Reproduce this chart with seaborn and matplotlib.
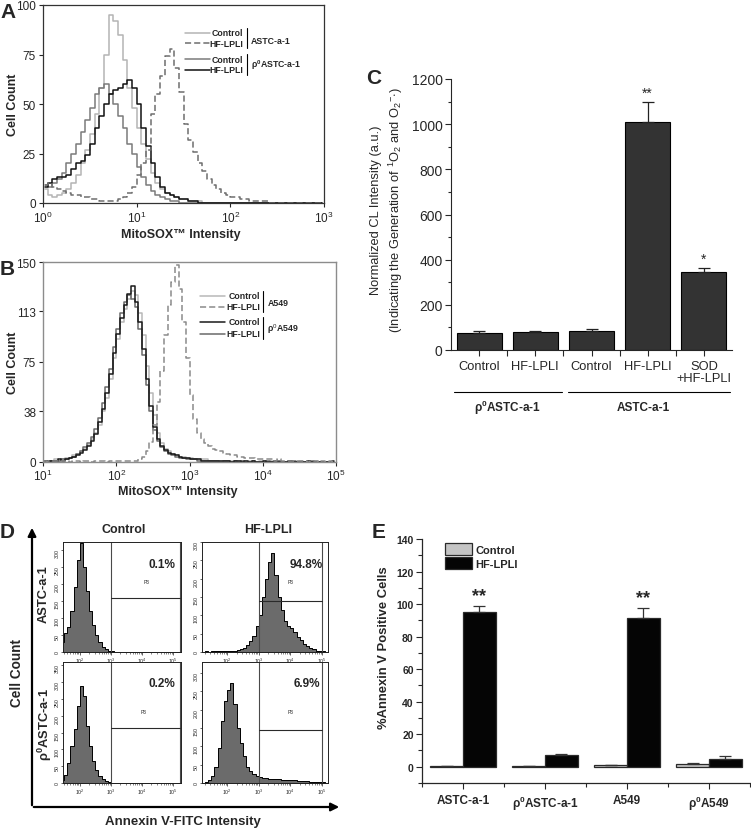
import numpy as np
import pandas as pd
import seaborn as sns
import matplotlib.pyplot as plt
from matplotlib.ticker import MultipleLocator, FixedLocator, NullLocator, LogLocator, NullFormatter
from matplotlib.patches import FancyArrowPatch

sns.set_style('ticks')
plt.rcParams['font.family'] = ['Liberation Sans', 'DejaVu Sans']
plt.rcParams['mathtext.fontset'] = 'custom'
plt.rcParams['mathtext.rm'] = 'Liberation Sans'
plt.rcParams['mathtext.it'] = 'Liberation Sans:italic'
plt.rcParams['mathtext.bf'] = 'Liberation Sans:bold'

"""
数据部分 (read off the picture)
"""
# A: MitoSOX histograms, channels of 0.05 decade from 10^0
a_ctrl = [7, 4, 3, 4, 5, 7, 10, 14, 20, 27, 35, 45, 58, 75, 95, 92, 85, 72, 58, 48,
          38, 30, 22, 15, 10, 7, 5, 4, 3, 2, 2, 1, 1, 1, 0, 0, 0, 0, 0, 0,
          0, 0, 0, 0, 0, 0, 0, 0, 0, 0, 0, 0, 0, 0, 0, 0, 0, 0, 0, 0]
a_hf = [9, 10, 8, 7, 6, 5, 4, 4, 3, 3, 2, 2, 1, 1, 1, 1, 2, 3, 5, 8,
        14, 20, 27, 45, 55, 64, 74, 78, 68, 56, 40, 32, 26, 20, 16, 12, 9, 7, 5, 4,
        3, 3, 2, 2, 1, 1, 1, 1, 0, 0, 0, 0, 0, 0, 0, 0, 0, 0, 0, 0]
a_rho_ctrl = [9, 8, 10, 12, 15, 20, 25, 30, 36, 42, 48, 55, 58, 60, 55, 50, 44, 38, 30, 25,
              18, 13, 9, 6, 4, 3, 2, 1, 1, 0, 0, 0, 0, 0, 0, 0, 0, 0, 0, 0,
              0, 0, 0, 0, 0, 0, 0, 0, 0, 0, 0, 0, 0, 0, 0, 0, 0, 0, 0, 0]
a_rho_hf = [8, 10, 12, 13, 13, 14, 17, 20, 21, 24, 30, 38, 44, 50, 55, 57, 58, 60, 62, 58,
            50, 38, 29, 20, 13, 8, 5, 4, 3, 2, 2, 1, 1, 0, 0, 0, 0, 0, 0, 0,
            0, 0, 0, 0, 0, 0, 0, 0, 0, 0, 0, 0, 0, 0, 0, 0, 0, 0, 0, 0]

# B: MitoSOX histograms, channels of 0.05 decade from 10^1
b_ctrl = [1, 1, 1, 2, 1, 2, 3, 3, 5, 6, 8, 10, 13, 17, 22, 28, 38, 48, 62, 78,
          92, 105, 115, 122, 128, 125, 112, 95, 72, 52, 35, 22, 14, 10, 8, 6, 5, 4, 4, 3,
          3, 2, 2, 2, 2, 1, 1, 1, 1, 1, 1, 1, 1, 1, 1, 1, 1, 1, 0, 1,
          1, 0, 1, 0, 1, 0, 0, 1, 0, 0, 1, 0, 0, 0, 1, 0, 0, 0, 0, 0]
b_hf = [1, 0, 1, 1, 0, 1, 1, 0, 1, 1, 0, 1, 1, 0, 1, 1, 1, 0, 1, 1,
        1, 1, 1, 1, 1, 1, 2, 4, 8, 15, 28, 45, 68, 95, 118, 135, 148, 130, 105, 78,
        50, 32, 22, 17, 14, 12, 10, 9, 8, 7, 6, 5, 5, 4, 4, 3, 3, 3, 2, 2,
        2, 2, 2, 1, 2, 1, 1, 1, 1, 1, 1, 1, 0, 1, 1, 0, 1, 0, 1, 0]
b_rho_ctrl = [1, 0, 1, 1, 2, 1, 2, 3, 4, 5, 7, 9, 12, 16, 21, 30, 40, 52, 66, 82,
              96, 108, 118, 126, 132, 120, 105, 85, 62, 42, 26, 17, 12, 9, 7, 6, 5, 4, 3, 3,
              2, 2, 2, 1, 1, 1, 1, 1, 1, 1, 1, 0, 1, 1, 0, 1, 0, 1, 0, 0,
              1, 0, 0, 1, 0, 0, 0, 1, 0, 0, 0, 0, 1, 0, 0, 0, 0, 0, 0, 1]
b_rho_hf = [1, 1, 1, 1, 1, 2, 2, 3, 4, 6, 8, 11, 14, 19, 25, 33, 44, 56, 70, 86,
            100, 112, 120, 125, 122, 116, 100, 80, 58, 38, 24, 16, 11, 8, 6, 5, 4, 3, 3, 2,
            2, 2, 1, 1, 1, 1, 1, 1, 0, 1, 1, 0, 1, 0, 1, 0, 0, 1, 0, 0,
            0, 1, 0, 0, 1, 0, 0, 0, 1, 0, 0, 0, 0, 1, 0, 0, 0, 0, 0, 0]

# C: chemiluminescence
c_conds = ['rho Control', 'rho HF-LPLI', 'Control', 'HF-LPLI', 'SOD+HF-LPLI']
c_ticks = ['Control', 'HF-LPLI', 'Control', 'HF-LPLI', 'SOD\n+HF-LPLI']
c_vals = [75, 78, 83, 1008, 344]
c_err = [9, 8, 10, 92, 20]
c_stars = ['', '', '', '**', '*']

# D: Annexin V histograms, channels of 0.1 decade from 10^1.2
d_astc_ctrl = [0, 0, 30, 55, 75, 120, 190, 270, 320, 250, 180, 120, 80, 50, 28, 15, 8, 4, 2, 1,
               0, 0, 0, 0, 0, 0, 0, 0, 0, 0, 0, 0, 0, 0, 0, 0, 0, 0, 0, 0, 0]
d_astc_hf = [0, 2, 1, 2, 2, 2, 3, 2, 3, 3, 4, 5, 8, 12, 18, 30, 45, 70, 100, 150,
             200, 245, 270, 210, 150, 115, 85, 70, 65, 55, 42, 32, 22, 16, 10, 7, 4, 3, 2, 1, 0]
d_rho_ctrl = [0, 0, 10, 25, 60, 110, 160, 230, 290, 260, 170, 110, 65, 38, 22, 13, 6, 3, 1, 0,
              0, 0, 0, 0, 0, 0, 0, 0, 0, 0, 0, 0, 0, 0, 0, 0, 0, 0, 0, 0, 0]
d_rho_hf = [0, 4, 8, 18, 45, 95, 170, 225, 255, 272, 215, 150, 110, 75, 45, 32, 24, 20, 17, 15,
            14, 12, 12, 11, 10, 9, 9, 8, 8, 7, 6, 6, 5, 5, 4, 3, 3, 2, 2, 1, 0]
d_pct = ['0.1%', '94.8%', '0.2%', '6.9%']
d_ymax = [324, 300, 360, 330]
d_gate_y = [160, 140, 165, 145]
d_gate_hi = [10 ** 5.22, 10 ** 5.0, 10 ** 5.22, 10 ** 5.0]

# E: % Annexin V positive
e_lines = ['ASTC-a-1', r'ρ$^{\mathbf{0}}$ASTC-a-1', 'A549', r'ρ$^{\mathbf{0}}$A549']
e_trts = ['Control', 'HF-LPLI']
e_ctrl = [0.3, 0.2, 0.8, 1.7]
e_ctrl_err = [0.3, 0.3, 0.3, 0.3]
e_hf = [95, 7, 91.5, 4.8]
e_hf_err = [4, 1, 6.2, 1.5]
e_stars = ['**', '', '**', '']

"""
绘图部分
"""
W, H = 751, 829
fig = plt.figure(figsize=(W / 100, H / 100), dpi=100)


def fx(p):
    return p / W


def fy(p):
    return 1 - p / H


def flow_line(ax, x, y, color, ls='-', lw=1.1):
    sns.lineplot(x=x, y=y, ax=ax, color=color, linestyle=ls, linewidth=lw,
                 drawstyle='steps-mid', estimator=None, sort=False)


def flow_legend(ax, entries, groups, sx, tx, bx, ys, bars, gys):
    for (col, ls, lab), y in zip(entries, ys):
        ax.plot(sx, [y, y], transform=ax.transAxes, color=col, ls=ls, lw=1.1, clip_on=False)
        ax.text(tx, y, lab, transform=ax.transAxes, ha='right', va='center', fontsize=6.3, weight='bold')
    for (y0, y1), g, gy in zip(bars, groups, gys):
        ax.plot([bx, bx], [y0, y1], transform=ax.transAxes, color='black', lw=0.8, clip_on=False)
        ax.text(bx + 0.015, gy, g, transform=ax.transAxes, ha='left', va='center', fontsize=6.3, weight='bold')


# ---------- A ----------
axA = fig.add_axes([fx(43), fy(204), 281 / W, 198 / H])
a_x = 10 ** (np.arange(len(a_ctrl)) * 0.05 + 0.025)
colsA = ['#b4b4b4', '#7a7a7a', '#111111', '#6e6e6e']
flow_line(axA, a_x, a_ctrl, colsA[0])
flow_line(axA, a_x, a_rho_ctrl, colsA[1])
flow_line(axA, a_x, a_rho_hf, colsA[2])
flow_line(axA, a_x, a_hf, colsA[3], ls=(0, (4, 2)))
axA.set_xscale('log')
axA.set_xlim(1, 1000)
axA.set_ylim(0, 100)
axA.set_yticks([0, 25, 50, 75, 100])
axA.xaxis.set_minor_locator(NullLocator())
axA.tick_params(labelsize=8.5, length=3, width=0.8, pad=2)
for s in axA.spines.values():
    s.set_color('#333333')
    s.set_linewidth(0.9)
axA.set_ylabel('Cell Count', fontsize=9, weight='bold', va='center')
axA.yaxis.set_label_coords(-0.107, 0.5)
axA.set_xlabel('MitoSOX™ Intensity', fontsize=9, weight='bold', va='center')
axA.xaxis.set_label_coords(0.49, -0.155)
flow_legend(axA,
            [(colsA[0], '-', 'Control'), (colsA[3], (0, (4, 2)), 'HF-LPLI'),
             (colsA[1], '-', 'Control'), (colsA[2], '-', 'HF-LPLI')],
            ['ASTC-a-1', r'ρ$^{\mathbf{0}}$ASTC-a-1'],
            [0.505, 0.594], 0.712, 0.726, [0.859, 0.808, 0.727, 0.672],
            [(0.884, 0.783), (0.753, 0.646)], [0.823, 0.702])

# ---------- B ----------
axB = fig.add_axes([fx(43), fy(463), 293 / W, 200 / H])
b_x = 10 ** (np.arange(len(b_ctrl)) * 0.05 + 1.025)
colsB = ['#b8b8b8', '#8a8a8a', '#1a1a1a', '#6a6a6a']
flow_line(axB, b_x, b_ctrl, colsB[0])
flow_line(axB, b_x, b_rho_hf, colsB[3])
flow_line(axB, b_x, b_rho_ctrl, colsB[2])
flow_line(axB, b_x, b_hf, colsB[1], ls=(0, (4, 2)))
axB.set_xscale('log')
axB.set_xlim(10, 1e5)
axB.set_ylim(0, 150)
axB.set_yticks([0, 38, 75, 113, 150])
axB.xaxis.set_minor_locator(NullLocator())
axB.tick_params(labelsize=8.5, length=3, width=0.8, pad=2)
axB.tick_params(axis='x', pad=1)
for s in axB.spines.values():
    s.set_color('#8c8c8c')
    s.set_linewidth(1.0)
axB.set_ylabel('Cell Count', fontsize=9, weight='bold', va='center')
axB.yaxis.set_label_coords(-0.102, 0.5)
axB.set_xlabel('MitoSOX™ Intensity', fontsize=9, weight='bold', va='center')
axB.xaxis.set_label_coords(0.46, -0.145)
flow_legend(axB,
            [(colsB[0], '-', 'Control'), (colsB[1], (0, (4, 2)), 'HF-LPLI'),
             (colsB[2], '-', 'Control'), (colsB[3], '-', 'HF-LPLI')],
            ['A549', r'ρ$^{0}$A549'],
            [0.536, 0.621], 0.741, 0.751, [0.831, 0.775, 0.702, 0.64],
            [(0.855, 0.75), (0.725, 0.615)], [0.80, 0.67])

# ---------- C ----------
axC = fig.add_axes([fx(451), fy(351), 281 / W, 271 / H])
dfc = pd.DataFrame({'cond': c_conds, 'cl': c_vals})
sns.barplot(data=dfc, x='cond', y='cl', color='#333333', saturation=1, edgecolor='black',
            linewidth=0.8, width=0.8, errorbar=None, ax=axC)
for bar, e, st in zip(axC.containers[0], c_err, c_stars):
    xc = bar.get_x() + bar.get_width() / 2
    h = bar.get_height()
    axC.errorbar(xc, h, yerr=[[0], [e]], color='#222222', capsize=4, elinewidth=0.9, capthick=0.9)
    if st:
        axC.text(xc, h + e + 8, st, ha='center', va='bottom', fontsize=10)
axC.set_xlim(-0.5, 4.5)
axC.set_ylim(0, 1200)
axC.yaxis.set_major_locator(MultipleLocator(200))
axC.yaxis.set_minor_locator(MultipleLocator(100))
axC.xaxis.set_minor_locator(FixedLocator([0.5, 1.5, 2.5, 3.5]))
axC.set_xticks(range(len(c_ticks)))
axC.set_xticklabels(c_ticks, fontsize=9.3, linespacing=1.0)
axC.tick_params(axis='y', labelsize=10, length=4, width=0.8, pad=2)
axC.tick_params(axis='x', length=4, width=0.8, pad=3)
axC.tick_params(which='minor', length=2.5, width=0.8)
axC.tick_params(axis='x', which='minor', length=4)
sns.despine(ax=axC)
axC.set_xlabel('')
axC.set_ylabel('Normalized CL Intensity (a.u.)\n'
               r'(Indicating the Generation of $^{1}$O$_{2}$ and O$_{2}$$^{-}$$\cdot$)',
               fontsize=9.3, ha='center', va='center', linespacing=1.3)
axC.yaxis.set_label_coords(-0.226, 0.52)
axC.plot([0.011, 0.395], [-0.155, -0.155], transform=axC.transAxes, color='black', lw=0.8, clip_on=False)
axC.plot([0.416, 0.993], [-0.155, -0.155], transform=axC.transAxes, color='black', lw=0.8, clip_on=False)
axC.text(0.2, -0.21, r'ρ$^{\mathbf{0}}$ASTC-a-1', transform=axC.transAxes, ha='center', va='center',
         fontsize=8.5, weight='bold')
axC.text(0.683, -0.21, 'ASTC-a-1', transform=axC.transAxes, ha='center', va='center',
         fontsize=8.5, weight='bold')

# ---------- D ----------
d_boxes = [(63, 653, 118, 110), (202, 653, 126, 110), (63, 784, 118, 121), (202, 784, 126, 121)]
d_xlims = [(10 ** 1.46, 10 ** 5.25), (10 ** 1.21, 10 ** 5.19), (10 ** 1.46, 10 ** 5.25), (10 ** 1.21, 10 ** 5.19)]
d_pct_pos = [(0.95, 0.8), (0.96, 0.8), (0.95, 0.83), (0.94, 0.83)]
d_p3_pos = [(0.71, 0.64), (0.70, 0.64), (0.68, 0.59), (0.70, 0.59)]
d_x = 10 ** (1.25 + 0.1 * np.arange(len(d_astc_ctrl)))
for i, counts in enumerate([d_astc_ctrl, d_astc_hf, d_rho_ctrl, d_rho_hf]):
    l, b, w, h = d_boxes[i]
    ax = fig.add_axes([fx(l), fy(b), w / W, h / H])
    sns.histplot(x=d_x, weights=counts, binwidth=0.1, binrange=(1.2, 5.3), log_scale=True,
                 element='step', fill=True, color='#6b6b6b', edgecolor='black', linewidth=0.7,
                 alpha=1, ax=ax)
    ax.set_xlim(*d_xlims[i])
    ax.set_ylim(0, d_ymax[i])
    ax.set_ylabel('')
    ax.axvline(1e3, color='#4a4a4a', lw=0.8)
    ax.axvline(d_gate_hi[i], color='#4a4a4a', lw=0.8)
    ax.plot([1e3, d_gate_hi[i]], [d_gate_y[i], d_gate_y[i]], color='#2a2a2a', lw=0.8)
    ax.text(*d_pct_pos[i], d_pct[i], transform=ax.transAxes, ha='right', va='center',
            fontsize=8.5, weight='bold')
    ax.text(*d_p3_pos[i], 'P3', transform=ax.transAxes, ha='center', va='center', fontsize=3.5)
    ax.xaxis.set_major_locator(FixedLocator([1e2, 1e3, 1e4, 1e5]))
    ax.xaxis.set_minor_locator(LogLocator(base=10, subs=np.arange(2, 10)))
    ax.xaxis.set_minor_formatter(NullFormatter())
    ax.yaxis.set_major_locator(MultipleLocator(50))
    ax.tick_params(labelsize=3.8, length=1.8, width=0.5, pad=0.8)
    ax.tick_params(axis='y', labelrotation=90)
    ax.tick_params(which='minor', length=1.2, width=0.4)
    for s in ax.spines.values():
        s.set_color('#222222')
        s.set_linewidth(0.7)

fig.text(fx(124), fy(530), 'Control', ha='center', va='center', fontsize=9, weight='bold')
fig.text(fx(268), fy(530), 'HF-LPLI', ha='center', va='center', fontsize=9, weight='bold')
fig.text(fx(44), fy(594), 'ASTC-a-1', rotation=90, ha='center', va='center', fontsize=9.3, weight='bold')
fig.text(fx(45), fy(725), r'ρ$^{\mathbf{0}}$ASTC-a-1', rotation=90, ha='center', va='center',
         fontsize=9.3, weight='bold')
fig.text(fx(17), fy(673), 'Cell Count', rotation=90, ha='center', va='center', fontsize=9.8, weight='bold')
fig.text(fx(183), fy(822), 'Annexin V-FITC Intensity', ha='center', va='center', fontsize=9.5, weight='bold')
fig.add_artist(FancyArrowPatch((fx(32), fy(809)), (fx(32), fy(526)), transform=fig.transFigure,
                               arrowstyle='-|>', mutation_scale=12, lw=1.6, color='black'))
fig.add_artist(FancyArrowPatch((fx(31), fy(808)), (fx(342), fy(808)), transform=fig.transFigure,
                               arrowstyle='-|>', mutation_scale=12, lw=1.6, color='black'))

# ---------- E ----------
axE = fig.add_axes([fx(422), fy(784), 328 / W, 244 / H])
dfe = pd.DataFrame({'line': e_lines * 2,
                    'trt': [e_trts[0]] * len(e_lines) + [e_trts[1]] * len(e_lines),
                    'pct': e_ctrl + e_hf})
sns.barplot(data=dfe, x='line', y='pct', hue='trt', order=e_lines, hue_order=e_trts,
            palette={'Control': '#c4c4c4', 'HF-LPLI': '#050505'}, saturation=1,
            edgecolor='#2a2a2a', linewidth=0.9, width=0.8, errorbar=None, legend=False, ax=axE)
for cont, errs, stars in zip(axE.containers, [e_ctrl_err, e_hf_err], [[''] * 4, e_stars]):
    for bar, e, st in zip(cont, errs, stars):
        xc = bar.get_x() + bar.get_width() / 2
        h = bar.get_height()
        axE.errorbar(xc, h, yerr=[[0], [e]], color='#333333', capsize=4, elinewidth=0.9, capthick=0.9)
        if st:
            axE.text(xc, h + e + 1, st, ha='center', va='bottom', fontsize=13, weight='bold')
axE.legend(handles=[axE.containers[0][0], axE.containers[1][0]], labels=e_trts,
           loc='upper left', bbox_to_anchor=(0.05, 1.01), frameon=False, handlelength=2.4,
           handleheight=1.3, labelspacing=0.15, handletextpad=0.35, borderaxespad=0.2,
           prop={'weight': 'bold', 'size': 8})
axE.set_xlim(-0.5, 3.5)
axE.set_ylim(-10, 140)
axE.yaxis.set_major_locator(MultipleLocator(20))
axE.yaxis.set_minor_locator(MultipleLocator(10))
axE.xaxis.set_minor_locator(FixedLocator([-0.5, 0.5, 1.5, 2.5, 3.5]))
axE.tick_params(axis='both', labelsize=7.5, length=4, width=0.8, pad=2)
axE.tick_params(axis='x', labelsize=8.5, pad=4)
axE.tick_params(which='minor', length=3, width=0.8)
for lbl in axE.get_xticklabels() + axE.get_yticklabels():
    lbl.set_fontweight('bold')
sns.despine(ax=axE)
for s in axE.spines.values():
    s.set_linewidth(0.9)
axE.set_xlabel('')
axE.set_ylabel('%Annexin V Positive Cells', fontsize=9.4, weight='bold', va='center')
axE.yaxis.set_label_coords(-0.116, 0.56)

# panel letters
for lab, (px, py) in zip('ABCDE', [(0, 12.5), (0, 270), (366, 79), (0, 533), (372, 533)]):
    fig.text(fx(px), fy(py), lab, ha='left', va='center', fontsize=15, weight='bold')

fig.savefig('out.png', dpi=100)
